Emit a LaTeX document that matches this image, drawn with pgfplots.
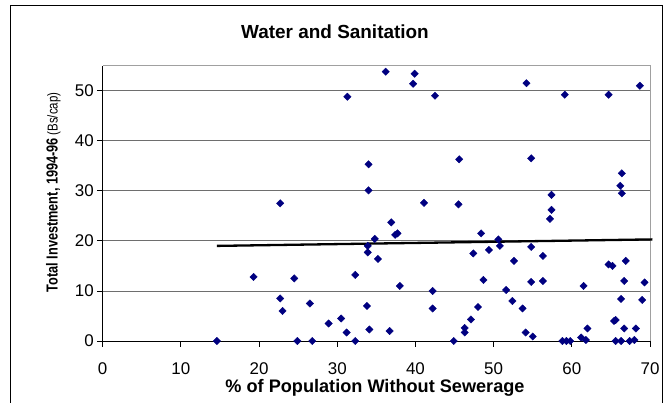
\documentclass[border=0pt]{standalone}
\usepackage{pgfplots}
\pgfplotsset{compat=1.18}
\usepackage{fontspec}
\setmainfont{Liberation Sans}
\definecolor{markblue}{RGB}{0,0,128}
\definecolor{gridgray}{RGB}{110,110,110}
\definecolor{boxgray}{RGB}{160,160,160}

\begin{document}
\begin{tikzpicture}[x=1bp,y=1bp]
\begin{axis}[
  at={(102.7bp,61bp)}, anchor=south west,
  scale only axis, width=547.3bp, height=275.3bp,
  xmin=0, xmax=70, ymin=0, ymax=55,
  xtick={0,10,...,70}, ytick={0,10,...,50},
  axis x line*=bottom, axis y line*=left,
  axis line style={black, line width=0.9bp, -},
  ymajorgrids,
  grid style={gridgray, line width=0.8bp},
  tick align=outside, major tick length=5.5bp,
  tick style={black, line width=0.8bp},
  /pgf/number format/assume math mode=true,
  tick label style={font=\fontsize{17}{20}\selectfont},
  xticklabel style={anchor=base, yshift=-28bp},
  clip=false,
]
% plot frame on top and right
\draw[boxgray, line width=0.9bp] (rel axis cs:0,1) -- (rel axis cs:1,1) -- (rel axis cs:1,0);

% linear trend
\addplot[black, line width=2.3bp, no marks] coordinates {(14.6,19.0) (70.3,20.3)};

% districts
\addplot[only marks, mark=square*, mark size=2.6bp,
  mark options={rotate=45, draw=markblue, fill=markblue}] coordinates {
(14.6,0) (19.3,12.8) (22.7,27.5) (22.7,8.5) (23.0,6.0) (24.5,12.5) (24.9,0)
(26.5,7.5) (26.8,0) (28.9,3.5) (30.5,4.5) (31.2,1.7) (31.3,48.8) (32.3,13.2)
(32.3,0) (33.8,7.0) (33.9,19.0) (33.9,17.7) (34.0,35.3) (34.0,30.1) (34.1,2.3)
(34.8,20.4) (35.2,16.4) (36.2,53.8) (36.7,2.0) (36.9,23.7) (37.4,21.2) (37.7,21.5)
(38.0,11.0) (39.7,51.4) (39.9,53.4) (41.1,27.6) (42.2,10.0) (42.2,6.5) (42.5,49.0)
(44.9,0) (45.5,27.3) (45.6,36.3) (46.3,2.6) (46.3,1.7) (47.1,4.3) (47.4,17.5)
(48.0,6.8) (48.4,21.5) (48.7,12.2) (49.4,18.2) (50.6,20.3) (50.8,19.0) (51.6,10.2)
(52.4,8.0) (52.6,16.0) (53.7,6.5) (54.1,1.7) (54.2,51.5) (54.8,36.5) (54.8,18.8)
(54.8,11.8) (55.0,0.9) (56.3,17.0) (56.3,12.0) (57.2,24.4) (57.4,26.2) (57.4,29.2)
(58.8,0) (59.1,49.2) (59.3,0) (59.8,0) (61.2,0.7) (61.5,11.0) (61.8,0.2)
(62.0,2.5) (64.7,49.2) (64.7,15.3) (65.2,15.0) (65.4,4.0) (65.6,4.2) (65.6,0)
(66.2,31.0) (66.3,0) (66.3,8.4) (66.4,33.5) (66.4,29.5) (66.7,12.0) (66.7,2.5)
(66.9,16.0) (67.4,0) (68.0,0.2) (68.2,2.5) (68.7,51.0) (69.0,8.2) (69.3,11.7)
};
\end{axis}

% title and axis titles
\node[font=\fontsize{19}{23}\selectfont\bfseries] at (335,370.3) {Water and Sanitation};
\node[font=\fontsize{18.2}{22}\selectfont\bfseries, anchor=base] at (375,9.5) {\% of Population Without Sewerage};
\node[rotate=90, yscale=1.25, anchor=base] at (57.7,209.5)
  {{\fontsize{12.8}{15}\selectfont\bfseries Total Investment, 1994-96} {\fontsize{11.5}{14}\selectfont(Bs/cap)}};

% chart frame
\draw[black, line width=1bp] (10,-10) -- (10,396.5) -- (662,396.5) -- (662,-10);

\pgfresetboundingbox
\path[use as bounding box] (0,0) rectangle (669,402);
\end{tikzpicture}
\end{document}
